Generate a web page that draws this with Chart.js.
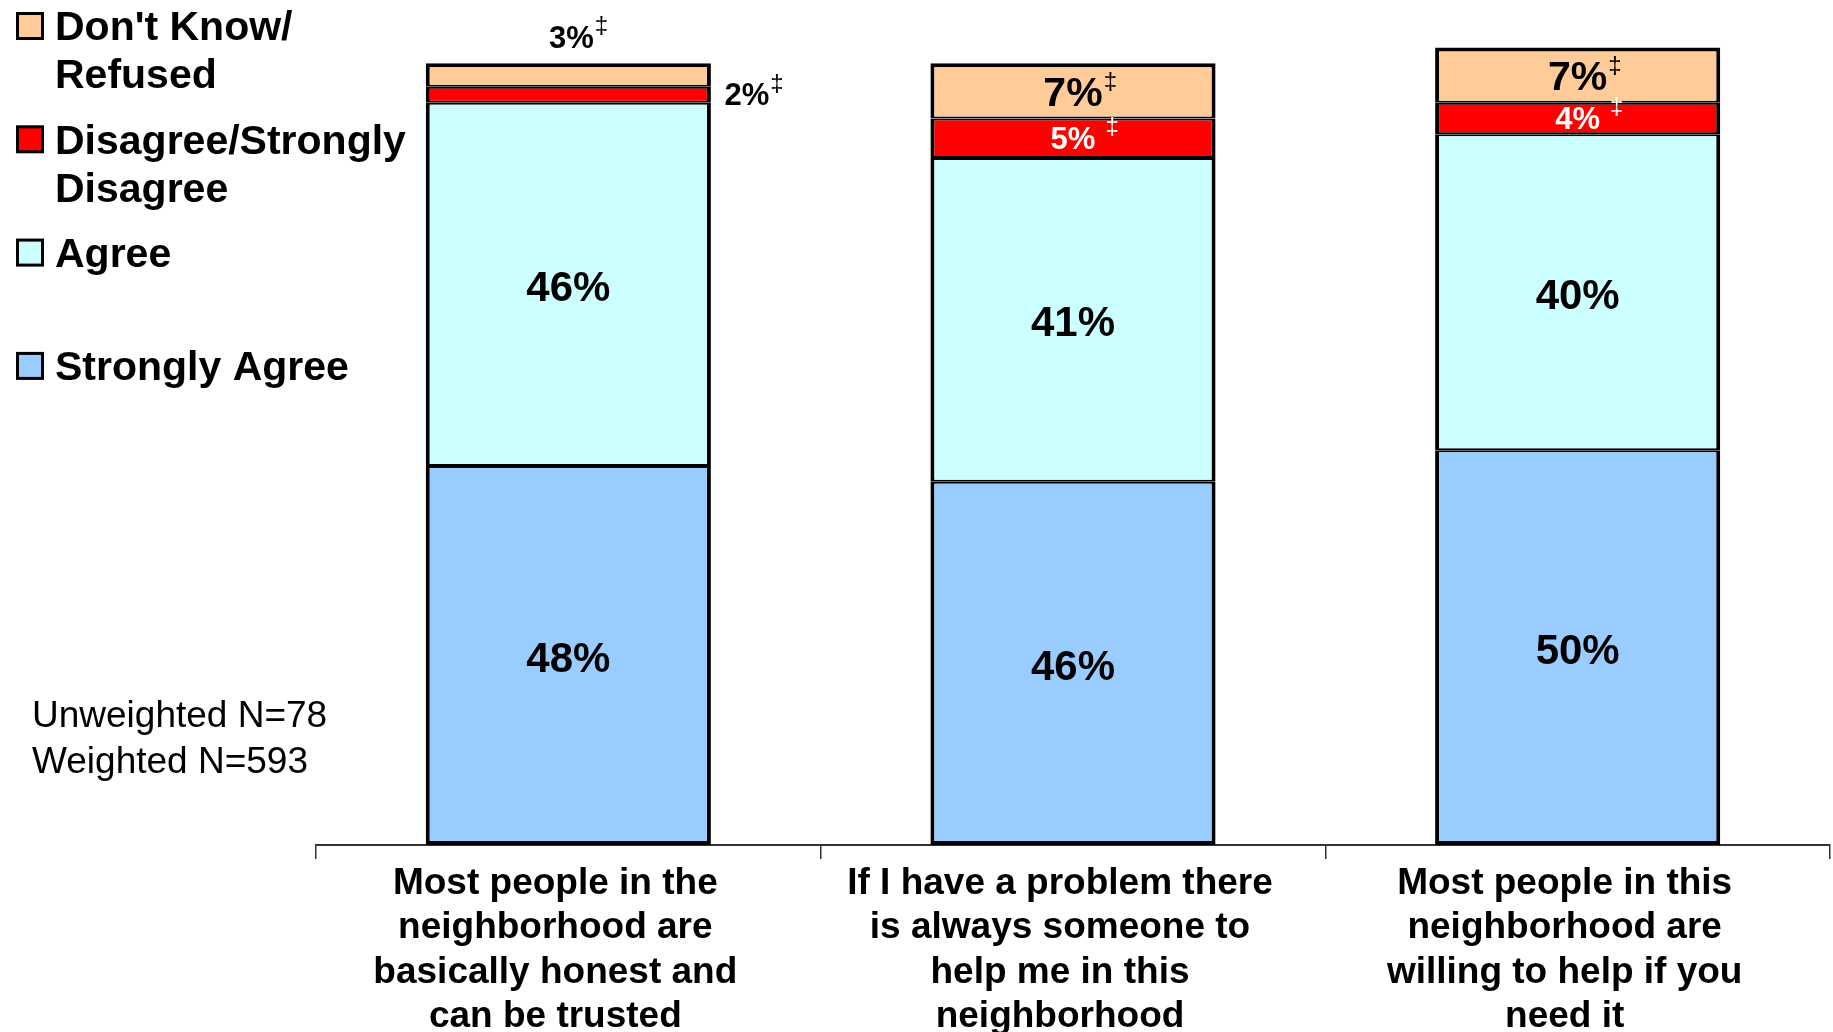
<!DOCTYPE html>
<html><head><meta charset="utf-8">
<script src="https://cdn.jsdelivr.net/npm/chart.js@4"></script>
<style>html,body{margin:0;padding:0;background:#fff;overflow:hidden}#wrap{width:1833px;height:1032px;position:relative}</style>
</head><body><div id="wrap"><canvas id="c" width="1833" height="1032"></canvas></div>
<script>
const categories = [
  ["Most people in the","neighborhood are","basically honest and","can be trusted"],
  ["If I have a problem there","is always someone to","help me in this","neighborhood"],
  ["Most people in this","neighborhood are","willing to help if you","need it"]
];
const seriesNames = [["Strongly Agree"],["Agree"],["Disagree/Strongly","Disagree"],["Don't Know/","Refused"]];
const stronglyAgree = [48,46,50];
const agree = [46,41,40];
const disagree = [2,5,4];
const dontKnow = [3,7,7];
const seriesValues = [stronglyAgree, agree, disagree, dontKnow];
const seriesColors = ["#99CCFF","#CCFFFF","#FF0000","#FFCC99"];
const flagged = [false,false,true,true];
const sampleNotes = ["Unweighted N=78","Weighted N=593"];

const FONT = '"Liberation Sans", Arial, Helvetica, sans-serif';
Chart.defaults.font.family = FONT;

const overlay = {
  id: 'overlay',
  afterDatasetsDraw(chart) {
    const ctx = chart.ctx;
    ctx.save();
    chart.data.datasets.forEach((ds, d) => {
      const meta = chart.getDatasetMeta(d);
      meta.data.forEach((bar, i) => {
        const v = ds.data[i];
        const p = bar.getProps(['x','y','base','width'], true);
        const mid = (p.y + p.base) / 2;
        let size = 42, color = '#000', x = p.x, y = mid + 5, align = 'center';
        if (d === 2) {
          size = 31; y = mid + 2;
          if (v < 3) { align = 'left'; x = p.x + p.width / 2 + 13.5; }
          else { color = '#fff'; }
        } else if (d === 3) {
          if (v < 5) { size = 31; y = p.y - 24; x = p.x + 3; }
          else { size = 41; y = mid + 4; }
        }
        const txt = v + '%';
        ctx.font = 'bold ' + size + 'px ' + FONT;
        ctx.fillStyle = color;
        ctx.textAlign = align;
        ctx.textBaseline = 'middle';
        ctx.fillText(txt, x, y);
        if (flagged[d]) {
          const w = ctx.measureText(txt).width;
          const right = align === 'left' ? x + w : x + w / 2;
          const gap = color === '#fff' ? 10 : 1;
          ctx.font = '24px ' + FONT;
          ctx.textAlign = 'left';
          ctx.textBaseline = 'alphabetic';
          ctx.fillText('\u2021', right + gap, y - 6);
        }
      });
    });
    ctx.restore();
  },
  afterDraw(chart) {
    const ctx = chart.ctx;
    ctx.save();
    // legend (reverse order of stacking)
    for (let j = 0; j < seriesNames.length; j++) {
      const k = seriesNames.length - 1 - j;
      const sy = 26 + j * 113.3;
      const ty = sy + 3;
      ctx.fillStyle = seriesColors[k];
      ctx.fillRect(17.5, sy - 12.5, 25, 25);
      ctx.lineWidth = 3;
      ctx.strokeStyle = '#000';
      ctx.strokeRect(17.5, sy - 12.5, 25, 25);
      ctx.fillStyle = '#000';
      ctx.font = 'bold 41px ' + FONT;
      ctx.textAlign = 'left';
      ctx.textBaseline = 'middle';
      seriesNames[k].forEach((line, li) => ctx.fillText(line, 55, ty + li * 48));
    }
    // sample notes
    ctx.font = '37px ' + FONT;
    ctx.fillStyle = '#000';
    sampleNotes.forEach((t, li) => ctx.fillText(t, 32, 716.5 + li * 46));
    ctx.restore();
  }
};

const lastSeries = seriesValues.length - 1;
new Chart(document.getElementById('c'), {
  type: 'bar',
  data: {
    labels: categories,
    datasets: seriesValues.map((vals, k) => ({
      label: seriesNames[k].join(' '),
      data: vals,
      backgroundColor: seriesColors[k],
      borderColor: '#000',
      borderWidth: (c) => ({
        top: c.datasetIndex === lastSeries ? 4 : 2,
        bottom: c.datasetIndex === 0 ? 4 : 2,
        left: 4, right: 4
      }),
      borderSkipped: false,
      barPercentage: 0.565,
      categoryPercentage: 1.0
    }))
  },
  options: {
    responsive: false,
    animation: false,
    devicePixelRatio: 1,
    layout: {padding: {left: 316, right: 3, top: 0, bottom: 0}},
    plugins: {legend: {display: false}, tooltip: {enabled: false}},
    scales: {
      x: {
        stacked: true,
        grid: {display: true, offset: true, drawOnChartArea: false, drawTicks: true, tickLength: 14, color: '#333', lineWidth: 1.5},
        border: {display: true, color: '#333', width: 2},
        ticks: {font: {size: 37, weight: 'bold', lineHeight: 1.2}, color: '#000', padding: 2.5, maxRotation: 0, minRotation: 0, autoSkip: false, labelOffset: -13},
        afterFit(s) { s.height = 187; }
      },
      y: {stacked: true, display: false, min: 0, max: 107}
    }
  },
  plugins: [overlay]
});
</script>
</body></html>
